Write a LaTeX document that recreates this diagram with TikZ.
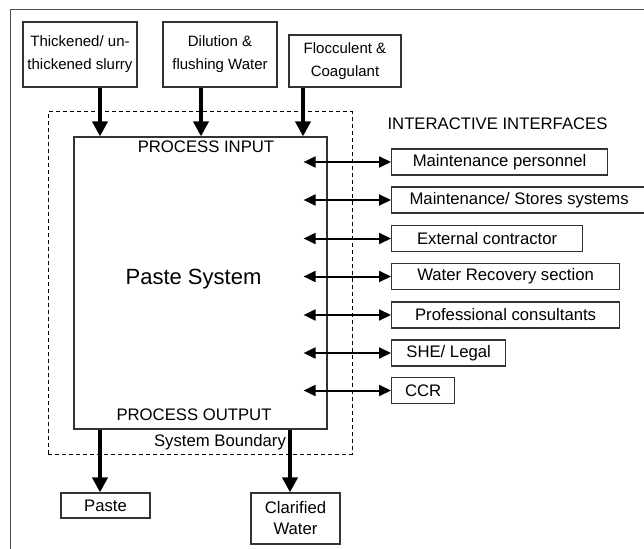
\documentclass[tikz,border=0pt]{standalone}
\usepackage{fontspec}
\setmainfont{Liberation Sans}
\usetikzlibrary{arrows.meta,calc}
\tikzset{
  box/.style={draw=black!80, line width=1.2pt, inner sep=0pt, align=center, font=\fontsize{16.7}{21}\selectfont},
  inbox/.style={box, font=\fontsize{15}{23}\selectfont},
  ifbox/.style={box, minimum height=26pt, anchor=west},
  bigarrow/.style={line width=4pt, -{Triangle[length=15pt,width=15pt]}},
  dblarrow/.style={line width=2pt, {Triangle[length=12pt,width=11pt]}-{Triangle[length=12pt,width=11pt]}},
  lbl/.style={inner sep=0pt, anchor=base, font=\fontsize{16.7}{20}\selectfont},
}
\begin{document}
\begin{tikzpicture}[x=1pt,y=-1pt]
\useasboundingbox (0,0) rectangle (644,548);
\clip (0,0) rectangle (644,548);
% outer frame
\draw[draw=black!70, line width=1pt] (10,10) rectangle (700,600);
% input boxes
\node[inbox, minimum width=114pt, minimum height=65pt] (in1) at (80,54.5) {Thickened/ un-\\thickened slurry};
\node[inbox, minimum width=114pt, minimum height=65pt] (in2) at (220,54.5) {Dilution \&\\flushing Water};
\node[inbox, minimum width=112pt, minimum height=52pt] (in3) at (345,61) {Flocculent \&\\Coagulant};
% system boundary and main box
\node[draw=black, line width=1pt, dash pattern=on 4pt off 3pt, minimum width=304pt, minimum height=342pt, inner sep=0pt] (bound) at (200,283) {};
\node[box, minimum width=253pt, minimum height=292pt] (main) at (200.5,283) {};
\node[lbl] (pin) at (206,153) {PROCESS INPUT};
\node[lbl] (pout) at (194,420) {PROCESS OUTPUT};
\node[lbl] (sb) at (220,446) {System Boundary};
\node[lbl, font=\fontsize{22}{26}\selectfont] (ps) at (193.5,284) {Paste System};
\node[lbl] (ii) at (497.5,130) {INTERACTIVE INTERFACES};
% outputs
\node[box, minimum width=89pt, minimum height=25pt] (paste) at (105.5,505.5) {Paste};
\node[box, minimum width=89pt, minimum height=51pt] (clar) at (295.5,518.5) {Clarified\\Water};
% interface boxes
\node[ifbox, minimum width=216pt] (if1) at (391,162) {Maintenance personnel};
\node[ifbox, minimum width=255pt] (if2) at (391,200) {Maintenance/ Stores systems};
\node[ifbox, minimum width=191pt] (if3) at (391,238.5) {External contractor};
\node[ifbox, minimum width=228pt] (if4) at (391,276.5) {Water Recovery section};
\node[ifbox, minimum width=228pt] (if5) at (391,315) {Professional consultants};
\node[ifbox, minimum width=114pt] (if6) at (391,353) {SHE/ Legal};
\node[ifbox, minimum width=63pt] (if7) at (391,390.5) {CCR};
% input arrows
\draw[bigarrow] ([xshift=20pt]in1.south) -- ([xshift=20pt]in1.south |- main.north);
\draw[bigarrow] ([xshift=-19pt]in2.south) -- ([xshift=-19pt]in2.south |- main.north);
\draw[bigarrow] ([xshift=-42pt]in3.south) -- ([xshift=-42pt]in3.south |- main.north);
% output arrows
\draw[bigarrow] ([xshift=-5.5pt]paste.north |- main.south) -- ([xshift=-5.5pt]paste.north);
\draw[bigarrow] ([xshift=-5.5pt]clar.north |- main.south) -- ([xshift=-5.5pt]clar.north);
% interface arrows
\coordinate (ileft) at ([xshift=-24pt]main.east);
\foreach \i in {1,...,7}{
  \draw[dblarrow] (ileft |- if\i.west) -- (if\i.west);
}
\end{tikzpicture}
\end{document}
